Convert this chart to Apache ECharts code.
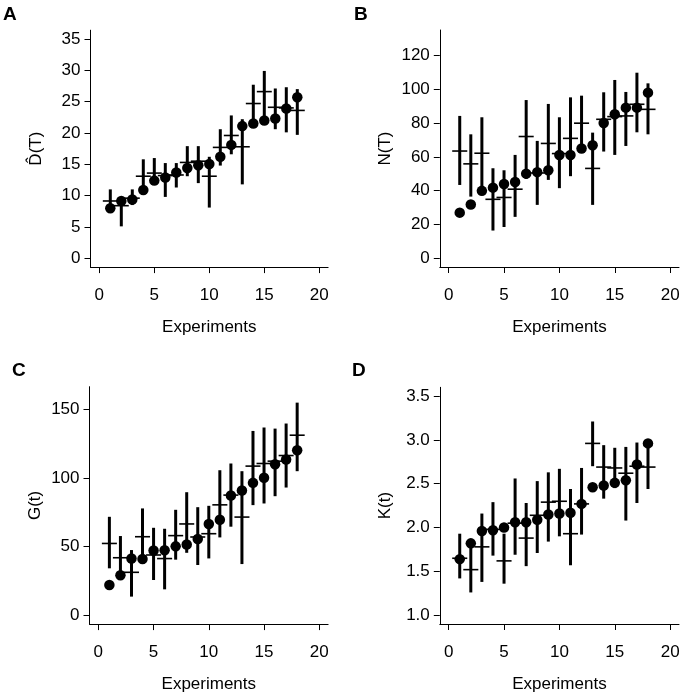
<!DOCTYPE html>
<html><head><meta charset="utf-8">
<script src="https://cdn.jsdelivr.net/npm/echarts@6/dist/echarts.min.js"></script>
<style>html,body{margin:0;padding:0;background:#fff}#c{width:684px;height:697px}</style>
</head><body><div id="c"></div>
<script>
// ---------- data ----------
const experiments = [1,2,3,4,5,6,7,8,9,10,11,12,13,14,15,16,17,18];
const xTicks = [0,5,10,15,20];

// Panel A : D^(T)
const A_dot = [8.0,9.15,9.4,10.9,12.4,12.9,13.7,14.4,14.85,15.05,16.2,18.1,21.1,21.5,22.0,22.3,23.9,25.7];
const A_est = [9.15,8.4,9.6,13.1,13.6,13.2,13.3,15.3,15.5,13.1,17.7,19.6,17.8,24.7,26.6,24.1,24.0,23.6];
const A_hi  = [11.0,9.6,11.0,15.8,16.0,15.2,15.2,17.9,17.9,16.2,20.6,22.8,22.2,27.7,29.9,27.1,27.3,27.0];
const A_lo  = [7.6,5.1,8.5,10.4,11.7,9.8,11.3,13.1,12.0,8.1,14.8,16.6,11.8,21.0,21.3,20.6,20.1,19.7];
const A_ticks = [0,5,10,15,20,25,30,35];

// Panel B : N(T)
const B_dot = [27.0,31.8,39.9,41.8,44.0,45.2,50.1,51.0,52.1,61.1,61.1,65.0,66.9,80.1,85.3,89.2,89.2,98.1];
const B_est = [63.5,55.9,62.2,34.9,36.0,40.9,72.1,50.5,68.0,62.0,71.0,80.0,53.2,82.3,83.9,84.3,91.2,88.2];
const B_hi  = [84.3,73.4,83.5,53.3,52.1,61.2,93.7,69.5,91.4,83.5,95.3,96.3,74.4,98.3,105.6,98.5,109.9,103.6];
const B_lo  = [43.4,36.5,38.5,16.4,18.5,24.5,47.0,31.6,46.4,41.5,48.6,63.2,31.6,63.2,61.2,66.5,74.6,73.4];
const B_ticks = [0,20,40,60,80,100,120];

// Panel C : G(t)
const C_dot = [22.1,29.1,41.4,41.0,47.2,47.4,50.2,51.5,55.6,66.4,69.5,87.2,90.9,96.4,100.1,110.0,113.4,120.2];
const C_est = [52.3,41.9,31.3,57.2,43.9,41.3,58.0,66.5,57.0,59.4,80.4,87.5,71.5,108.6,110.5,112.2,116.3,131.1];
const C_hi  = [71.7,57.7,47.5,77.8,63.7,63.0,76.8,89.6,78.7,79.7,105.6,110.5,104.9,134.2,136.7,135.9,139.6,154.8];
const C_lo  = [34.2,31.0,13.6,39.0,25.7,18.9,40.5,45.5,36.6,41.4,56.7,64.5,37.3,80.2,81.4,86.7,93.0,104.9];
const C_ticks = [0,50,100,150];

// Panel D : K(t)
const D_dot = [1.64,1.82,1.96,1.97,2.00,2.06,2.06,2.09,2.15,2.16,2.17,2.27,2.46,2.48,2.51,2.54,2.72,2.96];
const D_est = [1.65,1.52,1.78,1.98,1.62,2.05,1.88,2.14,2.29,2.30,1.93,2.27,2.96,2.69,2.68,2.62,2.70,2.69];
const D_hi  = [1.93,1.80,2.16,2.29,1.93,2.56,2.28,2.53,2.63,2.67,2.44,2.68,3.21,2.94,2.91,2.92,2.97,2.95];
const D_lo  = [1.42,1.26,1.38,1.68,1.36,1.69,1.56,1.71,1.84,1.90,1.57,1.92,2.70,2.33,2.45,2.08,2.28,2.44];
const D_ticks = ['1.0','1.5','2.0','2.5','3.0','3.5'];

// ---------- layout / style ----------
const FONT = 'Liberation Sans, Arial, Helvetica, sans-serif';
const HALF = 0.68;
const panels = [
  {letter:'A', name:'D\u0302(T)', dot:A_dot, est:A_est, hi:A_hi, lo:A_lo, ticks:A_ticks, ymin:-1.4, ymax:36.4,
   grid:{left:90.5, top:30.2, width:237.6, height:236.9}, lpos:{left:3, top:5}},
  {letter:'B', name:'N(T)', dot:B_dot, est:B_est, hi:B_hi, lo:B_lo, ticks:B_ticks, ymin:-5.2, ymax:135.2,
   grid:{left:439.8, top:30, width:239.2, height:237}, lpos:{left:354, top:5}},
  {letter:'C', name:'G(t)', dot:C_dot, est:C_est, hi:C_hi, lo:C_lo, ticks:C_ticks, ymin:-6.4, ymax:166.4,
   grid:{left:89.5, top:386.7, width:238.6, height:237.4}, lpos:{left:12, top:361}},
  {letter:'D', name:'K(t)', dot:D_dot, est:D_est, hi:D_hi, lo:D_lo, ticks:D_ticks.map(Number), ymin:0.9, ymax:3.6,
   grid:{left:439.8, top:387.3, width:239.2, height:236.7}, lpos:{left:352, top:361}, fmt:v=>v.toFixed(1)}
];

function vbar(params, api){
  const a = api.coord([api.value(0), api.value(1)]);
  const b = api.coord([api.value(0), api.value(2)]);
  return {type:'line', shape:{x1:a[0],y1:a[1],x2:b[0],y2:b[1]}, style:{stroke:'#000', lineWidth:3, lineCap:'butt'}};
}
function hbar(params, api){
  const x = api.value(0), y = api.value(1);
  const a = api.coord([x - HALF, y]);
  const b = api.coord([x + HALF, y]);
  return {type:'line', shape:{x1:a[0],y1:a[1],x2:b[0],y2:b[1]}, style:{stroke:'#000', lineWidth:1.6}};
}

const option = {animation:false, backgroundColor:'#fff', title:[], grid:[], xAxis:[], yAxis:[], series:[]};
panels.forEach((p, k) => {
  option.title.push({text:p.letter, left:p.lpos.left, top:p.lpos.top, padding:0,
    textStyle:{fontFamily:FONT, fontWeight:'bold', fontSize:19, color:'#000'}});
  option.grid.push(Object.assign({containLabel:false}, p.grid));
  option.xAxis.push({type:'value', gridIndex:k, min:-0.8, max:20.8,
    name:'Experiments', nameLocation:'middle', nameGap:52,
    nameTextStyle:{fontFamily:FONT, fontSize:17, color:'#000'},
    axisLine:{show:true, onZero:false, lineStyle:{color:'#000', width:1}},
    axisTick:{show:true, inside:false, length:6, lineStyle:{color:'#000', width:1}, customValues:xTicks},
    axisLabel:{show:true, margin:20, fontFamily:FONT, fontSize:17, color:'#000', customValues:xTicks},
    splitLine:{show:false}});
  option.yAxis.push({type:'value', gridIndex:k, min:p.ymin, max:p.ymax,
    name:p.name, nameLocation:'middle', nameGap:46,
    nameTextStyle:{fontFamily:FONT, fontSize:17, color:'#000'},
    axisLine:{show:true, onZero:false, lineStyle:{color:'#000', width:1}},
    axisTick:{show:true, inside:false, length:6, lineStyle:{color:'#000', width:1}, customValues:p.ticks},
    axisLabel:{show:true, margin:10, fontFamily:FONT, fontSize:17, color:'#000', customValues:p.ticks,
      formatter: p.fmt ? p.fmt : (v => String(v))},
    splitLine:{show:false}});
  option.series.push({type:'custom', xAxisIndex:k, yAxisIndex:k, renderItem:vbar,
    encode:{x:0, y:[1,2]}, data: experiments.map((e,i)=>[e, p.lo[i], p.hi[i]]), z:2});
  option.series.push({type:'custom', xAxisIndex:k, yAxisIndex:k, renderItem:hbar,
    encode:{x:0, y:1}, data: experiments.map((e,i)=>[e, p.est[i]]), z:2});
  option.series.push({type:'scatter', xAxisIndex:k, yAxisIndex:k, symbol:'circle', symbolSize:10.5,
    itemStyle:{color:'#000', opacity:1}, emphasis:{disabled:true}, data: experiments.map((e,i)=>[e, p.dot[i]]), z:3});
});
const chart = echarts.init(document.getElementById('c'), null, {renderer:'canvas'});
chart.setOption(option);
</script></body></html>
